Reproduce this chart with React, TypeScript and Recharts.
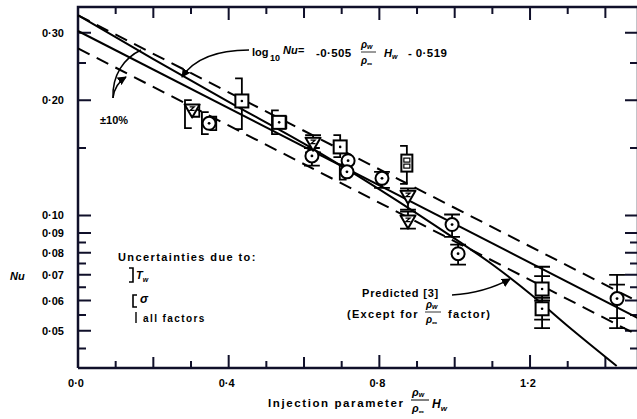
import React from 'react';
import { ComposedChart, Line, Scatter, XAxis, YAxis } from 'recharts';

// ---------- data ----------
const xDomain: [number, number] = [0, 1.4866];
const yDomain: [number, number] = [0.04, 0.35];

const xTicks = [0, 0.1, 0.2, 0.3, 0.4, 0.5, 0.6, 0.7, 0.8, 0.9, 1.0, 1.1, 1.2, 1.3, 1.4];
const xLabelVals = [0, 0.4, 0.8, 1.2];
const xLabelText = ['0·0', '0·4', '0·8', '1·2'];

const yTicks = [0.045, 0.05, 0.055, 0.06, 0.065, 0.07, 0.075, 0.08, 0.085, 0.09, 0.1, 0.15, 0.2, 0.25, 0.3];
const yLabelVals = [0.05, 0.06, 0.07, 0.08, 0.09, 0.1, 0.2, 0.3];
const yLabelText = ['0·05', '0·06', '0·07', '0·08', '0·09', '0·10', '0·20', '0·30'];

// correlation log10 Nu = -0.505 x - 0.519 and +-10% band (end values)
const corrX = [0, 1.4866];
const corrNu = [0.303, 0.054];
const upperNu = [0.333, 0.0596];
const lowerNu = [0.273, 0.0487];

// Predicted [3]
const predX = [0, 0.2, 0.4, 0.6, 0.8, 1.0, 1.1, 1.2, 1.3, 1.43];
const predNu = [0.333, 0.256, 0.198, 0.154, 0.117, 0.087, 0.0745, 0.0625, 0.0515, 0.0405];

// experimental points
const circleX = [0.348, 0.621, 0.717, 0.714, 0.807, 0.993, 1.009, 1.431];
const circleNu = [0.174, 0.143, 0.139, 0.130, 0.125, 0.0947, 0.0795, 0.0607];
const squareX = [0.435, 0.534, 0.696, 1.232, 1.232];
const squareNu = [0.199, 0.175, 0.151, 0.0643, 0.0571];
const triX = [0.303, 0.624, 0.876, 0.876];
const triNu = [0.188, 0.154, 0.112, 0.0964];
const dotSqX = [0.873];
const dotSqNu = [0.137];

// uncertainty bars: T = ] (T_w), S = [ (sigma), A = all factors
const errX = [0.303, 0.303, 0.348, 0.348, 0.435, 0.534, 0.534, 0.624, 0.621, 0.696, 0.714, 0.807, 0.873, 0.876, 0.876, 0.993, 1.009, 1.232, 1.232, 1.232, 1.232, 1.431, 1.431, 1.431];
const errLo = [0.169, 0.181, 0.163, 0.167, 0.168, 0.163, 0.169, 0.146, 0.135, 0.142, 0.124, 0.118, 0.121, 0.1036, 0.0924, 0.088, 0.0744, 0.06, 0.0508, 0.0695, 0.0535, 0.0508, 0.066, 0.054];
const errHi = [0.2, 0.194, 0.186, 0.181, 0.228, 0.188, 0.181, 0.162, 0.15, 0.162, 0.136, 0.13, 0.152, 0.1177, 0.1024, 0.1006, 0.0839, 0.0735, 0.061, 0.0695, 0.0535, 0.07, 0.066, 0.054];
const errKind = ['S', 'T', 'S', 'T', 'T', 'S', 'T', 'A', 'A', 'T', 'S', 'A', 'T', 'A', 'A', 'A', 'A', 'A', 'A', 'A', 'A', 'A', 'A', 'A'];
const errSide = [-1, 1, -1, 1, 0, -1, 1, 0, 0, 0, -1, 0, 0, 0, 0, 0, 0, 0, 0, 0, 0, 0, 0, 0];

// ---------- layout/style constants ----------
const DX = 0.019;
const CAP = 0.018;
const CROSS = 0.021;
const PX_PER_X = 560 / (xDomain[1] - xDomain[0]);
const PX_PER_DEC = 361 / Math.log10(yDomain[1] / yDomain[0]);
const INK = '#000';
const AXIS_INK = '#10102a';
const FONT = "'Liberation Sans', Arial, sans-serif";

const zip = (xs: number[], ys: number[]) => xs.map((x, i) => ({ x, y: ys[i] }));
const near = (a: number, b: number) => Math.abs(a - b) < 1e-6;
const xLen = (v: number) => (xLabelVals.some((t) => near(t, v)) ? 13 : near(v / 0.2, Math.round(v / 0.2)) ? 11 : 7);
const yLen = (v: number) => (yLabelVals.some((t) => near(t, v)) ? 13 : 8);

type Pt = { x: number; y: number | null };

function buildErr() {
  const out: Pt[] = [];
  const brk = (x: number) => out.push({ x, y: null });
  for (let i = 0; i < errX.length; i++) {
    const lo = errLo[i];
    const hi = errHi[i];
    const x0 = errX[i] + errSide[i] * DX;
    if (errKind[i] === 'A') {
      if (hi > lo) {
        out.push({ x: x0, y: lo }, { x: x0, y: hi });
        brk(x0);
      }
      out.push({ x: x0 - CROSS, y: hi }, { x: x0 + CROSS, y: hi });
      brk(x0);
      if (hi > lo) {
        out.push({ x: x0 - CROSS, y: lo }, { x: x0 + CROSS, y: lo });
        brk(x0);
      }
    } else {
      const s = errKind[i] === 'T' ? -1 : 1;
      out.push({ x: x0 + s * CAP, y: hi }, { x: x0, y: hi }, { x: x0, y: lo }, { x: x0 + s * CAP, y: lo });
      brk(x0);
    }
  }
  return out;
}

function buildFrame(): Pt[] {
  const [x0, x1] = xDomain;
  const [y0, y1] = yDomain;
  return [{ x: x0, y: y0 }, { x: x0, y: y1 }, { x: x1, y: y1 }, { x: x1, y: y0 }, { x: x0, y: y0 }];
}

function buildTicks(): Pt[] {
  const out: Pt[] = [];
  const [x0, x1] = xDomain;
  const [y0, y1] = yDomain;
  xTicks.forEach((v) => {
    const f = Math.pow(10, xLen(v) / PX_PER_DEC);
    out.push({ x: v, y: y0 }, { x: v, y: y0 * f }, { x: v, y: null });
    out.push({ x: v, y: y1 }, { x: v, y: y1 / f }, { x: v, y: null });
  });
  yTicks.forEach((v) => {
    const d = yLen(v) / PX_PER_X;
    out.push({ x: x0, y: v }, { x: x0 + d, y: v }, { x: x0 + d, y: null });
    out.push({ x: x1, y: v }, { x: x1 - d, y: v }, { x: x1 - d, y: null });
  });
  return out;
}

const XTick = (props: any) => {
  const { x, y, payload } = props;
  const li = xLabelVals.findIndex((t) => near(t, payload.value));
  if (li < 0) return <g />;
  return (
    <text x={x - 2} y={y + 19} textAnchor="middle" fontSize={11} fontWeight="bold" fontFamily={FONT} fill={INK} stroke="none">
      {xLabelText[li]}
    </text>
  );
};

const YTick = (props: any) => {
  const { x, y, payload } = props;
  const li = yLabelVals.findIndex((t) => near(t, payload.value));
  if (li < 0) return <g />;
  return (
    <text x={x - 14} y={y + 4} textAnchor="end" fontSize={11} fontWeight="bold" fontFamily={FONT} fill={INK} stroke="none">
      {yLabelText[li]}
    </text>
  );
};

const CircleShape = (p: any) => (
  <g>
    <circle cx={p.cx} cy={p.cy} r={6.5} fill="#fff" stroke="#000" strokeWidth={2} />
    <circle cx={p.cx} cy={p.cy} r={1.4} fill="#000" />
  </g>
);
const SquareShape = (p: any) => (
  <g>
    <rect x={p.cx - 6.5} y={p.cy - 6.5} width={13} height={13} fill="#fff" stroke="#000" strokeWidth={2} />
    <circle cx={p.cx} cy={p.cy} r={1.3} fill="#000" />
  </g>
);
const TriShape = (p: any) => (
  <g>
    <path d={`M${p.cx - 7.5},${p.cy - 6} L${p.cx + 7.5},${p.cy - 6} L${p.cx},${p.cy + 7} Z`} fill="#fff" stroke="#000" strokeWidth={2} strokeLinejoin="round" />
    <path d={`M${p.cx - 2.5},${p.cy - 3.5} L${p.cx + 2},${p.cy - 3.5} L${p.cx - 2},${p.cy} L${p.cx + 2.5},${p.cy}`} fill="none" stroke="#000" strokeWidth={1.3} />
  </g>
);
const DotSqShape = (p: any) => (
  <g>
    <rect x={p.cx - 5.5} y={p.cy - 8.5} width={11} height={17} fill="#fff" stroke="#000" strokeWidth={2} />
    <rect x={p.cx - 3} y={p.cy - 5} width={6} height={4} fill="none" stroke="#000" strokeWidth={1.2} />
    <rect x={p.cx - 3} y={p.cy + 1} width={6} height={4} fill="none" stroke="#000" strokeWidth={1.2} />
  </g>
);

const Overlay = () => (
  <svg width={637} height={419} style={{ position: 'absolute', left: 0, top: 0, pointerEvents: 'none' }} fontFamily={FONT} fontWeight="bold" fill={INK}>
    <defs>
      <marker id="ah" viewBox="0 0 10 10" refX="9" refY="5" markerWidth="6" markerHeight="6" orient="auto">
        <path d="M0,0 L10,5 L0,10 z" fill={INK} />
      </marker>
    </defs>
    <text x={252} y={56} fontSize={11}>log</text>
    <text x={270} y={61} fontSize={9}>10</text>
    <text x={283} y={54} fontSize={11} fontStyle="italic">Nu=</text>
    <text x={316} y={57} fontSize={11.5} letterSpacing={0.4}>-0·505</text>
    <text x={361} y={48} fontSize={10} fontStyle="italic">ρ<tspan fontSize={7} dy={1}>w</tspan></text>
    <line x1={361} x2={376} y1={52} y2={52} stroke={INK} strokeWidth={0.8} />
    <text x={361} y={64} fontSize={10} fontStyle="italic">ρ<tspan fontSize={7} dy={2}>∞</tspan></text>
    <text x={384} y={57} fontSize={11} fontStyle="italic">H<tspan fontSize={7} dy={2}>w</tspan></text>
    <text x={408} y={57} fontSize={11.5} letterSpacing={0.4}>- 0·519</text>
    <path d="M249,50 Q200,50 182,77" fill="none" stroke={INK} strokeWidth={1.5} markerEnd="url(#ah)" />

    <text x={100} y={124} fontSize={11}>±10%</text>
    <path d="M113,98 C112,75 124,58 141,50" fill="none" stroke={INK} strokeWidth={1.5} />
    <path d="M113,98 C114,88 118,82 126,77" fill="none" stroke={INK} strokeWidth={1.5} markerEnd="url(#ah)" />

    <text x={118} y={261} fontSize={11} letterSpacing={1.4}>Uncertainties due to:</text>
    <path d="M129,268 L133,268 L133,282 L129,282" fill="none" stroke={INK} strokeWidth={1.6} />
    <text x={136} y={279} fontSize={11} fontStyle="italic">T<tspan fontSize={7} dy={3}>w</tspan></text>
    <path d="M137,295 L133,295 L133,307 L137,307" fill="none" stroke={INK} strokeWidth={1.6} />
    <text x={140} y={303} fontSize={12} fontStyle="italic">σ</text>
    <line x1={136} x2={136} y1={312} y2={323} stroke={INK} strokeWidth={1.4} />
    <text x={143} y={322} fontSize={10} letterSpacing={1.4}>all factors</text>

    <text x={10} y={280} fontSize={11} fontStyle="italic">Nu</text>

    <text x={362} y={297} fontSize={11} letterSpacing={0.8}>Predicted [3]</text>
    <path d="M452,295 Q485,293 510,279" fill="none" stroke={INK} strokeWidth={1.5} markerEnd="url(#ah)" />
    <text x={347} y={318} fontSize={11} letterSpacing={1.3}>(Except  for</text>
    <text x={426} y={308} fontSize={10} fontStyle="italic">ρ<tspan fontSize={7} dy={1}>w</tspan></text>
    <line x1={425} x2={441} y1={312} y2={312} stroke={INK} strokeWidth={0.8} />
    <text x={426} y={323} fontSize={10} fontStyle="italic">ρ<tspan fontSize={7} dy={2}>∞</tspan></text>
    <text x={448} y={318} fontSize={11} letterSpacing={1.3}>factor)</text>

    <text x={268} y={407} fontSize={11.5} letterSpacing={1.6}>Injection  parameter</text>
    <text x={412} y={396} fontSize={11} fontStyle="italic">ρ<tspan fontSize={7} dy={1}>w</tspan></text>
    <line x1={411} x2={429} y1={400} y2={400} stroke={INK} strokeWidth={1} />
    <text x={412} y={412} fontSize={11} fontStyle="italic">ρ<tspan fontSize={7} dy={2}>∞</tspan></text>
    <text x={432} y={408} fontSize={12} fontStyle="italic">H<tspan fontSize={8} dy={3}>w</tspan></text>
  </svg>
);

export default function App() {
  const corr = zip(corrX, corrNu);
  const upper = zip(corrX, upperNu);
  const lower = zip(corrX, lowerNu);
  const pred = zip(predX, predNu);
  const err = buildErr();
  const frame = buildFrame();
  const tickMarks = buildTicks();
  return (
    <div style={{ position: 'absolute', left: 0, top: 0, width: 637, height: 419, overflow: 'hidden', background: '#fff' }}>
      <ComposedChart width={640} height={419} margin={{ top: 7, right: 2, bottom: 21, left: 18 }}>
        <XAxis type="number" dataKey="x" domain={xDomain} ticks={xTicks} interval={0}
          tickSize={0} tickMargin={0} axisLine={false} tickLine={false} tick={<XTick />} height={30} />
        <YAxis type="number" dataKey="y" scale="log" domain={yDomain} ticks={yTicks} interval={0}
          tickSize={0} tickMargin={0} axisLine={false} tickLine={false} tick={<YTick />} width={60} />
        <Line data={frame} dataKey="y" type="linear" stroke={AXIS_INK} strokeWidth={2.5} dot={false} isAnimationActive={false} />
        <Line data={tickMarks} dataKey="y" type="linear" stroke={AXIS_INK} strokeWidth={2} dot={false} connectNulls={false} isAnimationActive={false} />
        <Line data={upper} dataKey="y" type="linear" stroke="#000" strokeWidth={2} strokeDasharray="13 8" dot={false} isAnimationActive={false} />
        <Line data={lower} dataKey="y" type="linear" stroke="#000" strokeWidth={2} strokeDasharray="13 8" dot={false} isAnimationActive={false} />
        <Line data={corr} dataKey="y" type="linear" stroke="#000" strokeWidth={2} dot={false} isAnimationActive={false} />
        <Line data={pred} dataKey="y" type="monotone" stroke="#000" strokeWidth={2} dot={false} isAnimationActive={false} />
        <Line data={err} dataKey="y" type="linear" stroke="#000" strokeWidth={1.8} dot={false} connectNulls={false} isAnimationActive={false} />
        <Scatter data={zip(circleX, circleNu)} dataKey="y" shape={CircleShape} isAnimationActive={false} />
        <Scatter data={zip(squareX, squareNu)} dataKey="y" shape={SquareShape} isAnimationActive={false} />
        <Scatter data={zip(triX, triNu)} dataKey="y" shape={TriShape} isAnimationActive={false} />
        <Scatter data={zip(dotSqX, dotSqNu)} dataKey="y" shape={DotSqShape} isAnimationActive={false} />
      </ComposedChart>
      <Overlay />
    </div>
  );
}
